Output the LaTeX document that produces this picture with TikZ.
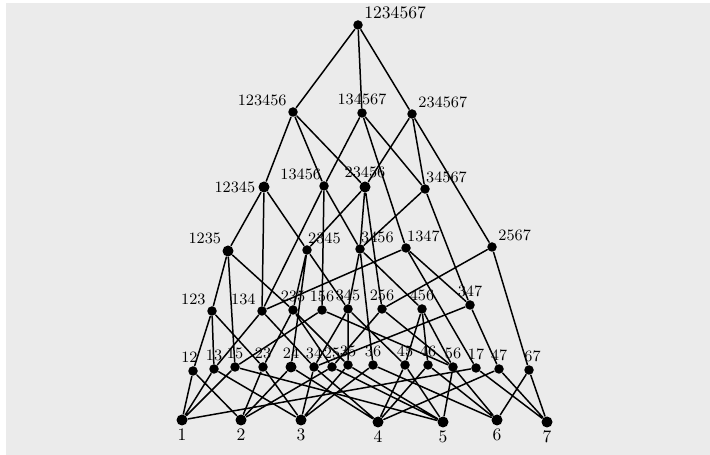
\documentclass[tikz,border=0pt]{standalone}
\begin{document}
\begin{tikzpicture}[x=0.02cm, y=-0.02cm, line width=0.85pt, line cap=round,
  pt/.style={circle, fill=black, inner sep=0pt, minimum size=0.19cm},
  big/.style={minimum size=0.22cm},
  every label/.style={font=\small, inner sep=1pt, label distance=0pt},
  sm/.style={every label/.append style={font=\footnotesize}}]
  \useasboundingbox (0,0) rectangle (710,455);
  \fill[gray!16] (6,3) rectangle (710,455);
  % top
  \node[pt, label={[font=\normalsize]above right:1234567}] (s1234567) at (358,25) {};
  % five of seven and six of seven
  \node[pt, label={above left:123456}] (s123456) at (293,112) {};
  \node[pt, label={above:134567}] (s134567) at (362,113) {};
  \node[pt, label={above right:234567}] (s234567) at (412,114) {};
  \node[pt, big, label={left:12345}] (s12345) at (264,187) {};
  \node[pt, label={[xshift=2pt]above left:13456}] (s13456) at (324,186) {};
  \node[pt, big, label={above:23456}] (s23456) at (365,187) {};
  \node[pt, label={[xshift=-3pt]above right:34567}] (s34567) at (425,189) {};
  % four
  \node[pt, big, label={above left:1235}] (s1235) at (228,251) {};
  \node[pt, label={[xshift=-3pt]above right:2345}] (s2345) at (307,250) {};
  \node[pt, label={[xshift=-3pt]above right:3456}] (s3456) at (360,249) {};
  \node[pt, label={[xshift=-3pt]above right:1347}] (s1347) at (406,248) {};
  \node[pt, label={above right:2567}] (s2567) at (492,247) {};
  % three
  \node[pt, sm, label={above left:123}] (s123) at (212,311) {};
  \node[pt, sm, label={above left:134}] (s134) at (262,311) {};
  \node[pt, sm, label={above:235}] (s235) at (293,310) {};
  \node[pt, sm, label={above:156}] (s156) at (322,310) {};
  \node[pt, sm, label={above:345}] (s345) at (348,309) {};
  \node[pt, sm, label={above:256}] (s256) at (382,309) {};
  \node[pt, sm, label={above:456}] (s456) at (422,309) {};
  \node[pt, sm, label={above:347}] (s347) at (470,305) {};
  % two
  \node[pt, sm, label={[xshift=-2pt]above:12}] (s12) at (193,371) {};
  \node[pt, sm, label={above:13}] (s13) at (214,369) {};
  \node[pt, sm, label={above:15}] (s15) at (235,367) {};
  \node[pt, sm, label={above:23}] (s23) at (263,367) {};
  \node[pt, sm, big, label={above:24}] (s24) at (291,367) {};
  \node[pt, sm, label={above:34}] (s34) at (314,367) {};
  \node[pt, sm, label={above:25}] (s25) at (332,367) {};
  \node[pt, sm, label={above:35}] (s35) at (348,365) {};
  \node[pt, sm, label={above:36}] (s36) at (373,365) {};
  \node[pt, sm, label={above:45}] (s45) at (405,365) {};
  \node[pt, sm, label={above:46}] (s46) at (428,365) {};
  \node[pt, sm, label={above:56}] (s56) at (453,367) {};
  \node[pt, sm, label={above:17}] (s17) at (476,368) {};
  \node[pt, sm, label={above:47}] (s47) at (499,369) {};
  \node[pt, sm, label={[xshift=2pt]above:67}] (s67) at (529,370) {};
  % one
  \node[pt, big, label={[font=\normalsize]below:1}] (s1) at (182,420) {};
  \node[pt, big, label={[font=\normalsize]below:2}] (s2) at (241,420) {};
  \node[pt, big, label={[font=\normalsize]below:3}] (s3) at (301,420) {};
  \node[pt, big, label={[font=\normalsize]below:4}] (s4) at (378,422) {};
  \node[pt, big, label={[font=\normalsize]below:5}] (s5) at (443,422) {};
  \node[pt, big, label={[font=\normalsize]below:6}] (s6) at (497,420) {};
  \node[pt, big, label={[font=\normalsize]below:7}] (s7) at (547,422) {};
  % covers
  \draw (s1234567) -- (s123456) (s1234567) -- (s134567) (s1234567) -- (s234567);
  \draw (s123456) -- (s12345) (s123456) -- (s13456) (s123456) -- (s23456);
  \draw (s134567) -- (s13456) (s134567) -- (s34567) (s134567) -- (s1347);
  \draw (s234567) -- (s23456) (s234567) -- (s34567) (s234567) -- (s2567);
  \draw (s12345) -- (s1235) (s12345) -- (s2345) (s12345) -- (s134);
  \draw (s13456) -- (s3456) (s13456) -- (s134) (s13456) -- (s156);
  \draw (s23456) -- (s2345) (s23456) -- (s3456) (s23456) -- (s256);
  \draw (s34567) -- (s3456) (s34567) -- (s347);
  \draw (s1235) -- (s123) (s1235) -- (s235) (s1235) -- (s15);
  \draw (s2345) -- (s235) (s2345) -- (s345) (s2345) -- (s24);
  \draw (s3456) -- (s345) (s3456) -- (s456) (s3456) -- (s36);
  \draw (s1347) -- (s134) (s1347) -- (s347) (s1347) -- (s17);
  \draw (s2567) -- (s256) (s2567) -- (s67);
  \draw (s123) -- (s12) (s123) -- (s13) (s123) -- (s23);
  \draw (s134) -- (s13) (s134) -- (s34);
  \draw (s235) -- (s23) (s235) -- (s25) (s235) -- (s35);
  \draw (s156) -- (s15) (s156) -- (s56);
  \draw (s345) -- (s34) (s345) -- (s35) (s345) -- (s45);
  \draw (s256) -- (s25) (s256) -- (s56);
  \draw (s456) -- (s45) (s456) -- (s46) (s456) -- (s56);
  \draw (s347) -- (s34) (s347) -- (s47);
  \draw (s12) -- (s1) (s12) -- (s2) (s13) -- (s1) (s13) -- (s3) (s15) -- (s1) (s15) -- (s5);
  \draw (s23) -- (s2) (s23) -- (s3) (s24) -- (s2) (s24) -- (s4) (s34) -- (s3) (s34) -- (s4);
  \draw (s25) -- (s2) (s25) -- (s5) (s35) -- (s3) (s35) -- (s5) (s36) -- (s3) (s36) -- (s6);
  \draw (s45) -- (s4) (s45) -- (s5) (s46) -- (s4) (s46) -- (s6) (s56) -- (s5) (s56) -- (s6);
  \draw (s17) -- (s1) (s17) -- (s7) (s47) -- (s4) (s47) -- (s7) (s67) -- (s6) (s67) -- (s7);
\end{tikzpicture}
\end{document}
